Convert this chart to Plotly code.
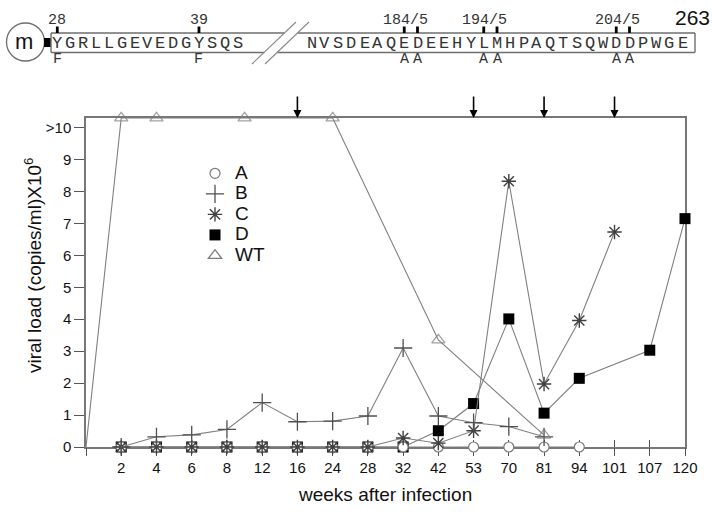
import plotly.graph_objects as go

# ---------------- data ----------------
weeks = [0, 2, 4, 6, 8, 12, 16, 24, 28, 32, 42, 53, 70, 81, 94, 101, 107, 120]
tick_labels = ["", "2", "4", "6", "8", "12", "16", "24", "28", "32", "42",
               "53", "70", "81", "94", "101", "107", "120"]
y_ticks = [0, 1, 2, 3, 4, 5, 6, 7, 8, 9, 10]
y_tick_labels = ["0", "1", "2", "3", "4", "5", "6", "7", "8", "9", ">10"]

A_weeks = [2, 4, 6, 8, 12, 16, 24, 28, 32, 42, 53, 70, 81, 94]
A_vals = [0, 0, 0, 0, 0, 0, 0, 0, 0, 0, 0, 0, 0, 0]

B_weeks = [2, 4, 6, 8, 12, 16, 24, 28, 32, 42, 53, 70, 81]
B_vals = [0, 0.32, 0.38, 0.55, 1.39, 0.79, 0.81, 0.97, 3.1, 0.97, 0.76, 0.64, 0.32]

C_weeks = [2, 4, 6, 8, 12, 16, 24, 28, 32, 42, 53, 70, 81, 94, 101]
C_vals = [0, 0, 0, 0, 0, 0, 0, 0, 0.28, 0.12, 0.51, 8.32, 1.97, 3.96, 6.73]

D_weeks = [2, 4, 6, 8, 12, 16, 24, 28, 32, 42, 53, 70, 81, 94, 107, 120]
D_vals = [0, 0, 0, 0, 0, 0, 0, 0, 0, 0.51, 1.36, 4.01, 1.06, 2.15, 3.03, 7.15]

WT_weeks = [0, 2, 4, 10, 24, 42, 81]
WT_vals = [0, 10.3, 10.3, 10.3, 10.3, 3.35, 0.37]

event_weeks = [16, 53, 81, 101]

seq_left = "YGRLLGEVEDGYSQS"
seq_right = "NVSDEAQEDEEHYLMHPAQTSQWDDPWGE"
left_marks = [(0, "28", "F"), (11, "39", "F")]
right_marks = [((7, 8), "184/5"), ((13, 14), "194/5"), ((23, 24), "204/5")]

# ---------------- layout helpers ----------------
W, H = 712, 516
ML, MR, MT, MB = 86, 27, 118, 69
PW, PH = W - ML - MR, H - MT - MB
Y_TOP = 10.3


def wpos(w):
    """category position of a week (interpolated between categories)"""
    if w in weeks:
        return weeks.index(w)
    for i in range(len(weeks) - 1):
        if weeks[i] < w < weeks[i + 1]:
            return i + (w - weeks[i]) / (weeks[i + 1] - weeks[i])
    return None


def px(x):
    return (x - ML) / PW


def py(y):
    return (H - MB - y) / PH


LINE = "#808080"
fig = go.Figure()


def add_series(wk, vals, marker, sizes=None):
    m = dict(marker)
    if sizes is not None:
        m["size"] = sizes
    fig.add_trace(go.Scatter(
        x=[wpos(w) for w in wk], y=vals, mode="lines+markers",
        line=dict(color=LINE, width=1.1), marker=m, cliponaxis=False,
        showlegend=False, hoverinfo="skip"))


mk_A = dict(symbol="circle", size=10, color="white", line=dict(color="#7a7a7a", width=1.2))
mk_B = dict(symbol="cross-thin-open", size=13, color="#505050", line=dict(color="#505050", width=1.3))
mk_C = dict(symbol="asterisk-open", size=12, color="#404040", line=dict(color="#404040", width=1.4))
mk_D = dict(symbol="square", size=11, color="black", line=dict(color="black", width=0))
mk_WT = dict(symbol="triangle-up-open", size=11.5, color="#7a7a7a", line=dict(color="#7a7a7a", width=1.3))

add_series(D_weeks, D_vals, mk_D)
add_series(A_weeks, A_vals, mk_A)
add_series(C_weeks, C_vals, mk_C)
add_series(B_weeks, B_vals, mk_B)
add_series(WT_weeks, WT_vals, mk_WT, sizes=[0] + [11.5] * (len(WT_vals) - 1))

# legend-only traces
for nm, mk in [("A", mk_A), ("B", mk_B), ("C", mk_C), ("D", mk_D), ("WT", mk_WT)]:
    fig.add_trace(go.Scatter(
        x=[None], y=[None], mode="markers", marker=mk,
        name="<span style='font-size:19px'>%s</span>" % nm, showlegend=True))

# second x axis for the downward half of the cross ticks
fig.add_trace(go.Scatter(x=[None], y=[None], xaxis="x2", showlegend=False))

shapes = []
annotations = []

# arrows marking events
for w in event_weeks:
    annotations.append(dict(x=wpos(w), y=Y_TOP, xref="x", yref="y", text="",
                            showarrow=True, ax=0, ay=-23, arrowhead=2,
                            arrowsize=1, arrowwidth=1.6, arrowcolor="black"))


def label(x, y, text, font, angle=0):
    annotations.append(dict(x=px(x), y=py(y), xref="paper", yref="paper", text=text,
                            showarrow=False, xanchor="center", yanchor="middle",
                            textangle=angle, font=font, borderpad=0))


# axis titles
label(385, 494, "weeks after infection", dict(family="Arial", size=19, color="#111"))
label(33, 266, "viral load (copies/ml)X10<sup>6</sup>",
      dict(family="Arial", size=19, color="#111"), angle=-90)

# ---------------- top protein diagram ----------------
GRAY = "#6e6e6e"
shapes.append(dict(type="circle", xref="paper", yref="paper",
                   x0=px(6.5), x1=px(44.5), y0=py(23), y1=py(61),
                   line=dict(color=GRAY, width=1.3)))
label(24.5, 41, "m", dict(family="Arial", size=22, color="#111"))
shapes.append(dict(type="rect", xref="paper", yref="paper",
                   x0=px(44), x1=px(51), y0=py(38), y1=py(47),
                   fillcolor="black", line=dict(width=0)))


def seg(x0, y0, x1, y1, color=GRAY, width=1.4):
    shapes.append(dict(type="line", xref="paper", yref="paper",
                       x0=px(x0), y0=py(y0), x1=px(x1), y1=py(y1),
                       line=dict(color=color, width=width)))


R_TOP, R_BOT, R_L, R_R = 33, 52.5, 51, 695
seg(R_L, R_TOP, 284.5, R_TOP)
seg(R_L, R_BOT, 264.5, R_BOT)
seg(R_L, R_TOP, R_L, R_BOT)
seg(297.5, R_TOP, R_R, R_TOP)
seg(277.5, R_BOT, R_R, R_BOT)
seg(R_R, R_TOP, R_R, R_BOT)
seg(252, 64, 296, 22, color="#8a8a8a", width=1.1)
seg(265, 64, 309, 22, color="#8a8a8a", width=1.1)

SEQ_FONT = dict(family="Liberation Mono, Courier New, monospace", size=17, color="#333")
NUM_FONT = dict(family="Liberation Mono, Courier New, monospace", size=15, color="#333")

LX0, LDX = 57.3, 12.88
RX0, RDX = 311.5, 13.25
SEQ_Y = 43.5

for i, ch in enumerate(seq_left):
    label(LX0 + i * LDX, SEQ_Y, ch, SEQ_FONT)
for i, ch in enumerate(seq_right):
    label(RX0 + i * RDX, SEQ_Y, ch, SEQ_FONT)


def tick_bar(x):
    shapes.append(dict(type="rect", xref="paper", yref="paper",
                       x0=px(x - 1.4), x1=px(x + 1.4), y0=py(26.5), y1=py(33),
                       fillcolor="black", line=dict(width=0)))


for idx, lab, sub in left_marks:
    x = LX0 + idx * LDX
    tick_bar(x)
    label(x, 20, lab, NUM_FONT)
    label(x, 59.5, sub, NUM_FONT)

for (i1, i2), lab in right_marks:
    x1 = RX0 + i1 * RDX
    x2 = RX0 + i2 * RDX
    tick_bar(x1)
    tick_bar(x2)
    label(x1 + 1, 20, lab, NUM_FONT)
    label(x1, 59.5, "A", NUM_FONT)
    label(x2, 59.5, "A", NUM_FONT)

label(692, 17.5, "263", dict(family="Arial", size=21, color="#111"))

# ---------------- axes / layout ----------------
xpos = list(range(len(weeks)))
fig.update_layout(
    width=W, height=H,
    margin=dict(l=ML, r=MR, t=MT, b=MB, pad=0),
    paper_bgcolor="white", plot_bgcolor="white",
    showlegend=True,
    legend=dict(x=px(195), y=py(158), xanchor="left", yanchor="top",
                bgcolor="rgba(0,0,0,0)", borderwidth=0,
                font=dict(family="Arial", size=13.5, color="#111")),
    xaxis=dict(range=[0, len(weeks) - 1], tickmode="array", tickvals=xpos, ticktext=tick_labels,
               ticks="inside", ticklen=7, tickwidth=1.2, tickcolor="#555",
               showline=True, linecolor="#777", linewidth=1.5, mirror=True,
               showgrid=False, zeroline=False, layer="below traces",
               ticklabelstandoff=6,
               tickfont=dict(family="Arial", size=15, color="#111")),
    xaxis2=dict(range=[0, len(weeks) - 1], overlaying="x", anchor="y", side="bottom",
                tickmode="array", tickvals=xpos, ticks="outside", ticklen=8, tickwidth=1.2,
                tickcolor="#555", showticklabels=False, showline=False, showgrid=False,
                zeroline=False, layer="below traces"),
    yaxis=dict(range=[0, Y_TOP], tickmode="array", tickvals=y_ticks, ticktext=y_tick_labels,
               ticks="outside", ticklen=10, tickwidth=1.2, tickcolor="#555",
               showline=True, linecolor="#777", linewidth=1.5, mirror=True,
               showgrid=False, zeroline=False, layer="below traces",
               tickfont=dict(family="Arial", size=15, color="#111")),
    shapes=shapes,
    annotations=annotations,
)

fig.write_html("out.html", config={"displayModeBar": False},
               post_script="document.body.style.margin='0';document.body.style.padding='0';")
